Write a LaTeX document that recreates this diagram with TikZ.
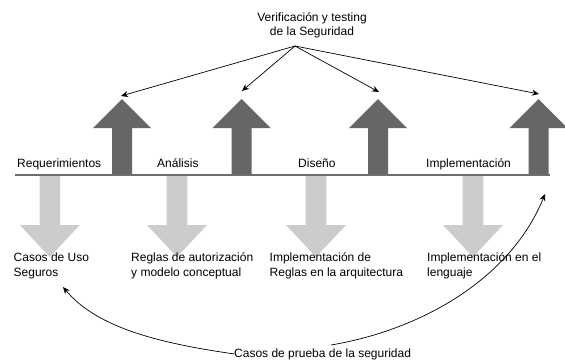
\documentclass[tikz,border=0pt]{standalone}
\usepackage{fontspec}
\setmainfont{Liberation Sans}
\usetikzlibrary{arrows.meta}
\definecolor{darkarrow}{HTML}{666666}
\definecolor{lightarrow}{HTML}{CCCCCC}
\definecolor{axisgray}{HTML}{6E6E6E}
\begin{document}
\begin{tikzpicture}[x=1pt,y=-1pt,
  lbl/.style={inner sep=0pt,font=\fontsize{12}{14.5}\selectfont,align=left},
  conn/.style={draw=black,line width=0.7pt,-{Stealth[length=7pt,width=6pt]}},
  uparrow/.style={fill=darkarrow},
  downarrow/.style={fill=lightarrow}]
\useasboundingbox (0,0) rectangle (565,360);
% phase line
\draw[axisgray,line width=1.5pt] (15,175) coordinate (l0) -- (550,175) coordinate (l1);
% up arrows
\foreach \cx in {122,241.7,378,538.5}{
  \fill[uparrow] (\cx-10,174) -- (\cx-10,128) -- (\cx-29,128) -- (\cx,99) -- (\cx+29,128) -- (\cx+10,128) -- (\cx+10,174) -- cycle;
}
% down arrows
\foreach \cx in {49.8,177,316,473}{
  \fill[downarrow] (\cx-10.3,176) -- (\cx-10.3,225) -- (\cx-30,225) -- (\cx,257) -- (\cx+30,225) -- (\cx+10.3,225) -- (\cx+10.3,176) -- cycle;
}
% top label
\node[lbl,align=center,anchor=base] (ver) at (312,35.7) {Verificación y testing\\de la Seguridad};
\coordinate (v) at (295,46);
\coordinate (t1) at (121,96);
\coordinate (t2) at (242,91);
\coordinate (t3) at (379,92);
\coordinate (t4) at (539,94);
\foreach \t in {t1,t2,t3,t4}{\draw[conn] (v) -- (\t);}
% phase labels
\node[lbl,anchor=base west] (req) at (17,167.5) {Requerimientos};
\node[lbl,anchor=base west] (ana) at (157,167.5) {Análisis};
\node[lbl,anchor=base west] (dis) at (298,167.5) {Diseño};
\node[lbl,anchor=base west] (imp) at (426,167.5) {Implementación};
% outputs
\node[lbl,anchor=base west] (o1) at (13.5,276) {Casos de Uso\\Seguros};
\node[lbl,anchor=base west] (o2) at (131,276) {Reglas de autorización\\y modelo conceptual};
\node[lbl,anchor=base west] (o3) at (269.5,276) {Implementación de\\Reglas en la arquitectura};
\node[lbl,anchor=base west] (o4) at (427,276) {Implementación en el\\lenguaje};
% bottom
\node[lbl,anchor=base west] (cp) at (234,357) {Casos de prueba de la seguridad};
\coordinate (c1) at (63,287);
\coordinate (c2) at (545,194);
\coordinate (cs) at (331,345);
\draw[conn] (cp.west) .. controls (150,342) and (95,325) .. (c1);
\draw[conn] (cs) .. controls (420,330) and (510,280) .. (c2);
\end{tikzpicture}
\end{document}
